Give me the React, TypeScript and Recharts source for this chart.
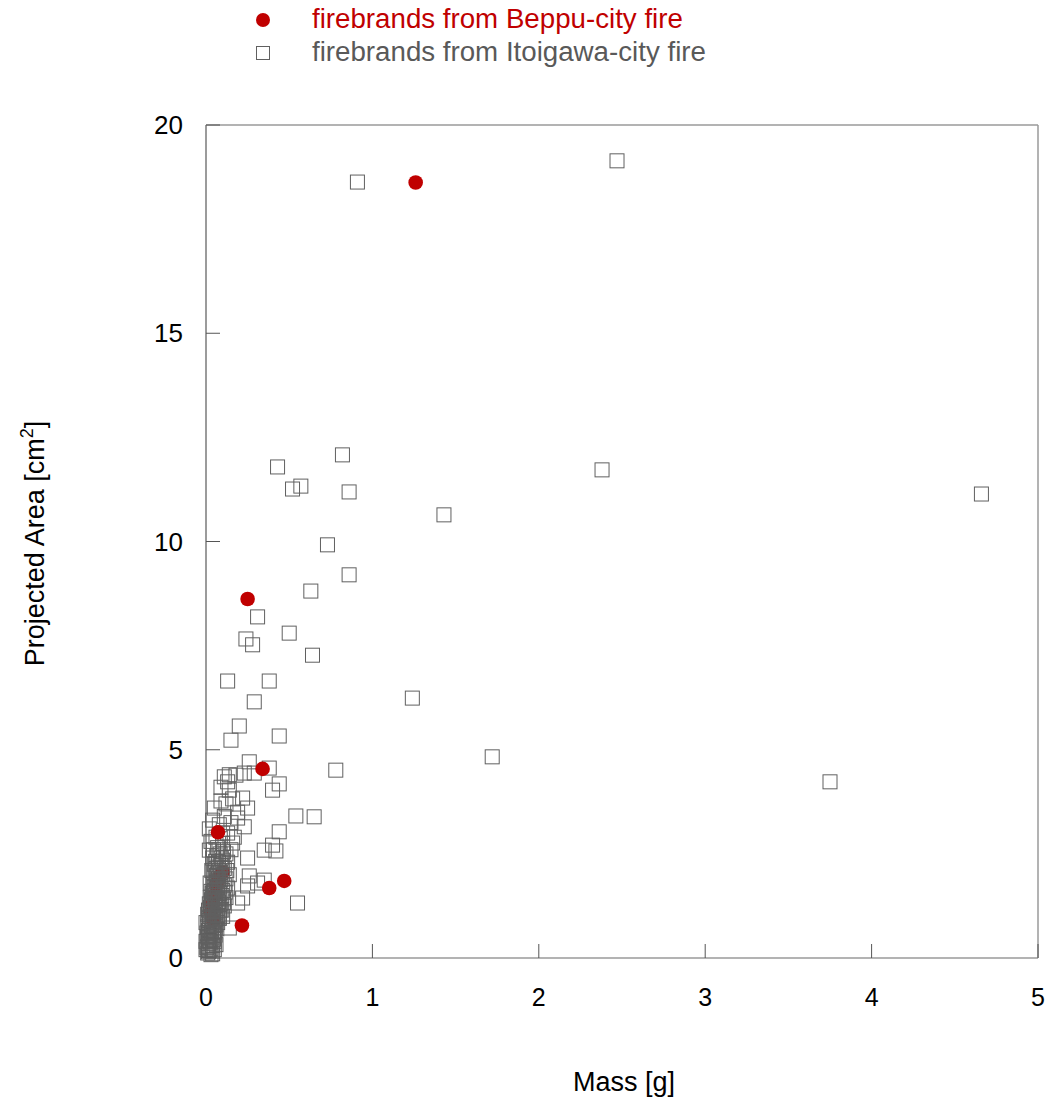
import { Label, ReferenceLine, Scatter, ScatterChart, XAxis, YAxis } from "recharts";

// [mass g, projected area cm2]
const beppuFire: number[][] = [
  [1.26, 18.62], [0.25, 8.62], [0.34, 4.54], [0.072, 3.02], [0.38, 1.68], [0.47, 1.85], [0.216, 0.78]
];

// Beppu points that sit inside the dense Itoigawa cluster (drawn underneath)
const beppuHidden: number[][] = [
  [0.1, 2.06], [0.08, 1.95], [0.06, 1.75], [0.05, 1.5], [0.04, 1.3], [0.07, 1.85], [0.03, 1.1], [0.045, 0.9]
];

const itoigawaOuter: number[][] = [
  [2.47, 19.14], [0.91, 18.63], [0.82, 12.08], [2.38, 11.72], [4.66, 11.14], [0.43, 11.79], [0.52, 11.26],
  [0.57, 11.33], [0.86, 11.19], [1.43, 10.64], [0.73, 9.92], [0.86, 9.2], [0.63, 8.81], [0.31, 8.19],
  [0.5, 7.8], [0.24, 7.66], [0.28, 7.52], [0.64, 7.27], [0.13, 6.65], [0.38, 6.65], [0.29, 6.15],
  [1.24, 6.24], [0.2, 5.57], [0.15, 5.23], [0.44, 5.33], [1.72, 4.83], [3.75, 4.23], [0.78, 4.51],
  [0.26, 4.71], [0.38, 4.56], [0.44, 4.18], [0.4, 4.03], [0.54, 3.41], [0.65, 3.39], [0.44, 3.03],
  [0.4, 2.71], [0.42, 2.57], [0.35, 2.59], [0.55, 1.32],
  [0.11, 4.35], [0.18, 4.39], [0.23, 4.44], [0.29, 4.44], [0.13, 4.23], [0.14, 4.03], [0.16, 3.82],
  [0.09, 3.77], [0.22, 3.84], [0.25, 3.6], [0.19, 3.5], [0.19, 3.36], [0.23, 3.15], [0.04, 3.31],
  [0.25, 2.4], [0.16, 2.76], [0.1, 3.0], [0.02, 2.59], [0.26, 1.97], [0.31, 1.8], [0.35, 1.87],
  [0.25, 1.73], [0.22, 1.44], [0.19, 1.32], [0.14, 0.72], [0.08, 0.98]
];

const itoigawaCluster: number[][] = [
  [0.01, 0.12], [0.02, 0.18], [0.005, 0.25], [0.03, 0.22], [0.015, 0.35], [0.04, 0.3], [0.02, 0.42],
  [0.01, 0.5], [0.035, 0.48], [0.05, 0.4], [0.025, 0.58], [0.045, 0.62], [0.015, 0.66], [0.055, 0.55],
  [0.03, 0.72], [0.05, 0.78], [0.02, 0.82], [0.04, 0.88], [0.065, 0.7], [0.035, 0.95], [0.055, 0.92],
  [0.025, 1.0], [0.07, 0.85], [0.045, 1.05], [0.03, 1.12], [0.06, 1.1], [0.08, 0.95], [0.04, 1.2],
  [0.055, 1.25], [0.035, 1.3], [0.07, 1.2], [0.05, 1.38], [0.085, 1.15], [0.04, 1.45], [0.065, 1.42],
  [0.055, 1.5], [0.075, 1.35], [0.045, 1.58], [0.09, 1.3], [0.06, 1.62], [0.08, 1.55], [0.05, 1.7],
  [0.07, 1.68], [0.095, 1.5], [0.06, 1.78], [0.085, 1.72], [0.1, 1.62], [0.065, 1.85], [0.075, 1.9],
  [0.055, 1.95], [0.09, 1.88], [0.11, 1.75], [0.07, 2.02], [0.08, 2.1], [0.1, 2.0], [0.06, 2.15],
  [0.12, 1.9], [0.09, 2.22], [0.075, 2.3], [0.11, 2.15], [0.05, 2.25], [0.1, 2.35], [0.065, 2.45],
  [0.13, 2.3], [0.085, 2.5], [0.04, 2.4], [0.12, 2.5], [0.02, 0.95], [0.01, 0.75], [0.02, 1.3],
  [0.03, 1.6], [0.025, 1.45], [0.015, 0.15], [0.04, 0.1], [0.05, 0.2], [0.06, 0.32], [0.045, 0.45],
  [0.05, 0.6], [0.06, 0.8], [0.1, 1.0], [0.11, 1.25], [0.12, 1.45], [0.13, 1.68], [0.14, 2.0],
  [0.15, 2.6], [0.03, 0.08],
  [0.03, 2.8], [0.06, 2.9], [0.08, 3.2], [0.02, 3.1], [0.11, 3.4], [0.05, 3.6], [0.07, 2.65],
  [0.13, 3.0], [0.1, 2.75], [0.15, 3.25], [0.17, 2.9], [0.12, 3.7], [0.09, 4.1], [0.14, 4.4],
  [0.0, 0.2], [0.0, 0.4], [0.005, 0.6], [0.0, 0.85], [0.01, 1.05], [0.012, 0.28], [0.022, 0.52],
  [0.028, 0.38], [0.018, 0.9], [0.033, 0.62], [0.038, 0.78], [0.042, 1.0], [0.027, 1.22], [0.048, 1.15],
  [0.033, 1.4], [0.058, 1.35], [0.038, 1.55], [0.052, 1.62], [0.043, 1.78], [0.068, 1.55], [0.078, 1.75],
  [0.062, 1.98], [0.048, 2.05], [0.088, 2.05], [0.072, 2.18], [0.058, 2.32], [0.092, 2.4], [0.078, 2.6],
  [0.105, 2.55], [0.045, 2.6], [0.035, 2.1], [0.025, 1.8], [0.015, 1.15], [0.06, 0.98], [0.072, 1.02],
  [0.082, 1.28], [0.095, 1.15], [0.105, 1.42], [0.115, 1.58], [0.125, 2.1]
];

const massTicks = [0, 1, 2, 3, 4, 5];
const areaTicks = [0, 5, 10, 15, 20];

const toPoints = (rows: number[][]) => rows.map(([mass, area]) => ({ mass, area }));
const beppuData = toPoints(beppuFire);
const beppuHiddenData = toPoints(beppuHidden);
const itoigawaData = toPoints([...itoigawaOuter, ...itoigawaCluster]);

const RED = "#c00000";
const GRAY = "#606060";
const FONT = "'Liberation Sans', Arial, sans-serif";

const SquareShape = (props: any) => {
  const { cx, cy } = props;
  if (cx == null || cy == null) return null;
  return <rect x={cx - 7} y={cy - 7} width={14} height={14} fill="none" stroke={GRAY} strokeWidth={1} />;
};

const DotShape = (props: any) => {
  const { cx, cy } = props;
  if (cx == null || cy == null) return null;
  return <circle cx={cx} cy={cy} r={7.3} fill={RED} />;
};

function LegendBox() {
  return (
    <div style={{ position: "absolute", left: 0, top: 0, fontFamily: FONT, fontSize: 27.7 }}>
      <svg width={20} height={20} style={{ position: "absolute", left: 253, top: 10 }}>
        <circle cx={10} cy={10} r={7} fill={RED} />
      </svg>
      <div style={{ position: "absolute", left: 312, top: 3, color: RED, whiteSpace: "nowrap" }}>
        firebrands from Beppu-city fire
      </div>
      <svg width={20} height={20} style={{ position: "absolute", left: 253, top: 43 }}>
        <rect x={3.5} y={3.5} width={13} height={13} fill="none" stroke={GRAY} />
      </svg>
      <div style={{ position: "absolute", left: 312, top: 36, color: "#595959", whiteSpace: "nowrap" }}>
        firebrands from Itoigawa-city fire
      </div>
    </div>
  );
}

export default function App() {
  return (
    <div style={{ position: "absolute", left: 0, top: 0, width: 1053, height: 1102, background: "#fff" }}>
      <ScatterChart width={1053} height={1102} margin={{ top: 125, right: 15, bottom: 84, left: 0 }}>
        <XAxis
          type="number"
          dataKey="mass"
          domain={[0, 5]}
          ticks={massTicks}
          interval={0}
          height={60}
          tickSize={-14}
          tickMargin={44}
          axisLine={{ stroke: "#9a9a9a", strokeWidth: 1.5 }}
          tickLine={{ stroke: "#555" }}
          tick={{ fill: "#000", fontSize: 25, fontFamily: FONT }}
        >
          <Label
            content={(p: any) => {
              const vb = p.viewBox;
              return (
                <text x={vb.x + vb.width / 2 + 2} y={1091} textAnchor="middle" fontSize={27} fontFamily={FONT} fill="#000">
                  Mass [g]
                </text>
              );
            }}
          />
        </XAxis>
        <YAxis
          type="number"
          dataKey="area"
          domain={[0, 20]}
          ticks={areaTicks}
          interval={0}
          width={206}
          tickSize={-14}
          tickMargin={37}
          axisLine={{ stroke: "#7a7a7a", strokeWidth: 1.5 }}
          tickLine={{ stroke: "#555" }}
          tick={{ fill: "#000", fontSize: 26, fontFamily: FONT }}
        >
          <Label
            content={(p: any) => {
              const vb = p.viewBox;
              const cx = vb.x + 44;
              const cy = vb.y + vb.height / 2 + 2;
              return (
                <text x={cx} y={cy} transform={`rotate(-90, ${cx}, ${cy})`} textAnchor="middle" fontSize={27} fontFamily={FONT} fill="#000">
                  Projected Area [cm
                  <tspan dy={-11} fontSize={18}>2</tspan>
                  <tspan dy={11}>]</tspan>
                </text>
              );
            }}
          />
        </YAxis>
        <ReferenceLine y={20} stroke="#9a9a9a" strokeWidth={1.5} />
        <ReferenceLine x={5} stroke="#9a9a9a" strokeWidth={1.5} />
        <Scatter name="Beppu (in cluster)" data={beppuHiddenData} shape={DotShape} isAnimationActive={false} />
        <Scatter name="firebrands from Itoigawa-city fire" data={itoigawaData} shape={SquareShape} isAnimationActive={false} />
        <Scatter name="firebrands from Beppu-city fire" data={beppuData} shape={DotShape} isAnimationActive={false} />
      </ScatterChart>
      <LegendBox />
    </div>
  );
}
